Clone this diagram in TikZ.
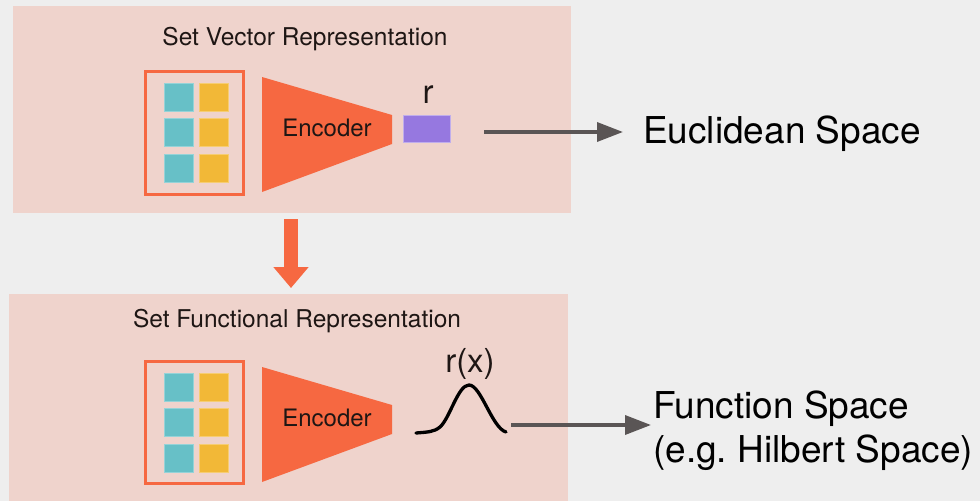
\documentclass[tikz,border=0pt]{standalone}
\usepackage{fontspec}
\setmainfont{TeX Gyre Heros}
\usetikzlibrary{arrows.meta}
\frenchspacing
\definecolor{bgc}{HTML}{EEEEEE}
\definecolor{panelc}{HTML}{EFD3CC}
\definecolor{orng}{HTML}{F66841}
\definecolor{tealc}{HTML}{67C0C7}
\definecolor{yelc}{HTML}{F2B837}
\definecolor{purc}{HTML}{9678E0}
\definecolor{arrc}{HTML}{5A5555}
\definecolor{txtc}{HTML}{1E1614}
\tikzset{
  panel/.style={fill=panelc, draw=none},
  setbox/.style={draw=orng, line width=3pt, fill=panelc},
  tsq/.style={fill=tealc, draw=tealc!70!white, line width=0.8pt},
  ysq/.style={fill=yelc, draw=yelc!70!white, line width=0.8pt},
  title/.style={font=\fontsize{24.5}{28}\selectfont, text=txtc, inner sep=0pt, anchor=base},
  enctext/.style={font=\fontsize{24}{28}\selectfont, text=txtc, inner sep=0pt, anchor=base},
  rlabel/.style={font=\fontsize{33}{36}\selectfont, text=txtc, inner sep=0pt, anchor=base},
  bigtext/.style={font=\fontsize{37}{44}\selectfont, text=black, inner sep=0pt},
  greyarrow/.style={draw=arrc, line width=3.5pt, -{Triangle[length=26pt,width=19pt]}},
  downarrow/.style={draw=orng, line width=14pt, -{Triangle[length=21pt,width=34pt]}}
}
\begin{document}
\begin{tikzpicture}[x=1pt,y=-1pt]
\fill[bgc] (0,0) rectangle (980,501);
\useasboundingbox (0,0) rectangle (980,501);
% panels
\path[panel] (13,6) rectangle (571,213);
\coordinate (p1s) at (291,213);
\path[panel] (9,294) rectangle (568,501);
\coordinate (p2n) at (291,294);
% ---- top panel ----
\node[title] (t1) at (305,45) {Set Vector Representation};
\draw[setbox] (145.5,71.5) rectangle (243.5,194.5);
\foreach \y in {83,118,154}{
  \path[tsq] (164,\y) rectangle (193,\y+28);
  \path[ysq] (199,\y) rectangle (228,\y+28);
}
\fill[orng] (262,77) -- (392,115) -- (392,144) -- (262,192) -- cycle;
\node[enctext] (enc1) at (327,136) {Encoder};
\path[fill=purc, draw=purc!60!white, line width=0.8pt] (403,115) rectangle (450,142);
\node[inner sep=0pt] (rvec) at (426.5,128.5) {};
\node[rlabel] (rl) at (428,103) {r};
\node[bigtext, anchor=base west] (euc) at (643,143) {Euclidean Space};
\coordinate (a1s) at (484,132);
\draw[greyarrow] (a1s) -- (a1s -| euc.west) [shorten >=20pt];
% ---- down arrow ----
\draw[downarrow, shorten <=6pt, shorten >=6pt] (p1s) -- (p2n);
% ---- bottom panel ----
\node[title] (t2) at (297,327) {Set Functional Representation};
\draw[setbox] (145.5,361.5) rectangle (243.5,483.5);
\foreach \y in {373,408,444}{
  \path[tsq] (164,\y) rectangle (193,\y+28);
  \path[ysq] (199,\y) rectangle (228,\y+28);
}
\fill[orng] (262,367) -- (392,405) -- (392,434) -- (262,482) -- cycle;
\node[enctext] (enc2) at (327,426) {Encoder};
\node[rlabel] (rxl) at (470,372) {r(x)};
\draw[black, line width=3.3pt, line cap=round, line join=round]
  (416,433) .. controls (428,432) and (434,432) .. (440,427)
  .. controls (450,418) and (458,385) .. (469,385)
  .. controls (481,385) and (492,428) .. (506,432);
\node[bigtext, anchor=base west, align=left] (func) at (653,462) {Function Space\\(e.g. Hilbert Space)};
\coordinate (a2s) at (511,425);
\draw[greyarrow, shorten >=2pt] (a2s) -- (a2s -| func.west);
\end{tikzpicture}
\end{document}
